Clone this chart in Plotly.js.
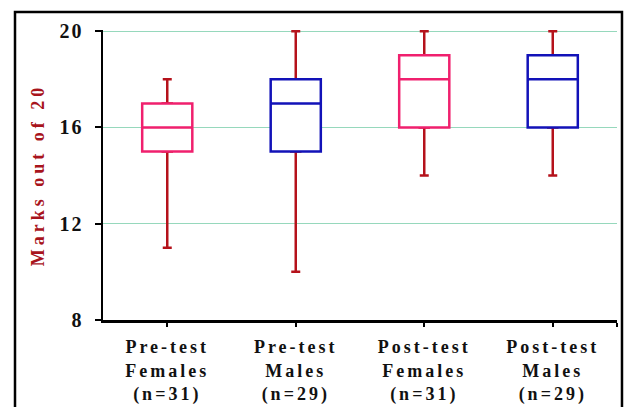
<!DOCTYPE html>
<html>
<head>
<meta charset="utf-8">
<script src="https://cdn.plot.ly/plotly-3.0.1.min.js"></script>
<style>
  html, body { margin: 0; padding: 0; background: #ffffff; }
  #chart { width: 628px; height: 407px; }
</style>
</head>
<body>
<div id="chart"></div>
<script>
// ---- data ----
const categories = ['Pre-test<br>Females<br>(n=31)', 'Pre-test<br>Males<br>(n=29)',
                    'Post-test<br>Females<br>(n=31)', 'Post-test<br>Males<br>(n=29)'];
const groups = ['Females', 'Males', 'Females', 'Males'];
const minVals    = [11, 10, 14, 14];
const q1Vals     = [15, 15, 16, 16];
const medianVals = [16, 17, 18, 18];
const q3Vals     = [17, 18, 19, 19];
const maxVals    = [18, 20, 20, 20];
const yTickVals  = [8, 12, 16, 20];
const yTitle = 'Marks out of 20';

// ---- styling ----
const FONT = '"Liberation Serif", "Times New Roman", serif';
const WHISKER = '#b5121b';
const colors = { Females: '#f0206e', Males: '#1212b8' };

const positions = categories.map((c, i) => i);
const bold = s => '<b>' + s.split('<br>').join('</b><br><b>') + '</b>';

function pick(arr, g) { return arr.filter((v, i) => groups[i] === g); }

// whiskers (dark red), with a narrow hidden box
const whiskerTrace = {
  type: 'box',
  x: positions,
  q1: q1Vals, median: medianVals, q3: q3Vals,
  lowerfence: minVals, upperfence: maxVals,
  width: 0.07, whiskerwidth: 1,
  line: { color: WHISKER, width: 2.5 },
  fillcolor: 'rgba(0,0,0,0)',
  hoverinfo: 'skip', showlegend: false
};

const boxTraces = ['Females', 'Males'].map(g => ({
  type: 'box',
  name: g,
  x: pick(positions, g),
  q1: pick(q1Vals, g), median: pick(medianVals, g), q3: pick(q3Vals, g),
  lowerfence: pick(q1Vals, g), upperfence: pick(q3Vals, g),
  width: 0.39, whiskerwidth: 0,
  line: { color: colors[g], width: 2.5 },
  fillcolor: '#ffffff',
  showlegend: false
}));

const layout = {
  width: 628, height: 407,
  margin: { l: 103, r: 11, t: 30, b: 87 },
  paper_bgcolor: '#ffffff', plot_bgcolor: '#ffffff',
  showlegend: false,
  boxmode: 'overlay',
  xaxis: {
    range: [-0.5, 3.5],
    tickvals: positions.concat([3.499]),
    ticktext: categories.map(bold).concat(['']),
    ticks: 'outside', ticklen: 4, tickwidth: 2, tickcolor: '#000',
    showline: true, linecolor: '#000', linewidth: 2.5,
    showgrid: false, zeroline: false,
    tickfont: { family: FONT, size: 18, weight: 'bold', color: '#111' },
    ticklabelstandoff: 5
  },
  yaxis: {
    range: [8, 20.05],
    tickvals: yTickVals,
    ticktext: yTickVals.map(v => bold(String(v))),
    ticks: 'outside', ticklen: 6, tickwidth: 2, tickcolor: '#000',
    showline: true, linecolor: '#000', linewidth: 2.5,
    showgrid: true, gridcolor: '#96d8bc', gridwidth: 1,
    zeroline: false,
    tickfont: { family: FONT, size: 20, weight: 'bold', color: '#111' },
    ticklabelstandoff: 7,
    title: { text: bold(yTitle), standoff: 14,
             font: { family: FONT, size: 18, weight: 'bold', color: '#a8141c' } }
  },
  shapes: [{
    type: 'rect', xref: 'paper', yref: 'paper',
    x0: -0.1712, x1: 1.0097, y0: -0.4, y1: 1.0621,
    line: { color: '#000', width: 2.5 }, layer: 'above'
  }]
};

Plotly.newPlot('chart', [whiskerTrace].concat(boxTraces), layout, { staticPlot: true })
  .then(gd => {
    gd.querySelectorAll('.xtick text').forEach(t => { t.style.letterSpacing = '3px'; });
    gd.querySelectorAll('.ytick text').forEach(t => { t.style.letterSpacing = '2px'; });
    gd.querySelectorAll('.ytitle').forEach(t => { t.style.letterSpacing = '4px'; });
  });
</script>
</body>
</html>
